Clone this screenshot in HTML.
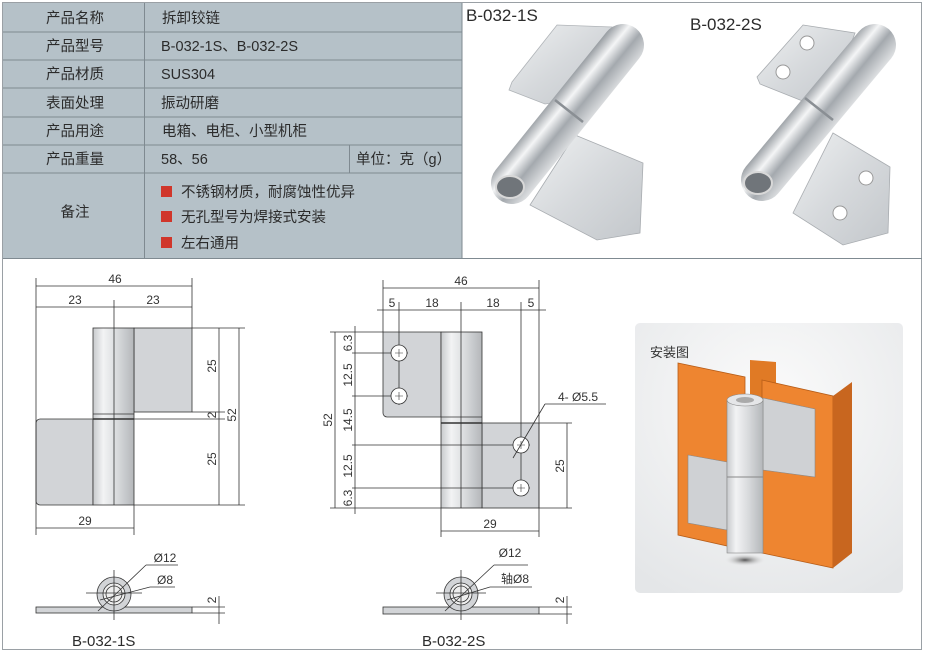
<!DOCTYPE html>
<html><head><meta charset="utf-8"><style>
html,body{margin:0;padding:0;background:#fff;}
svg{display:block;font-family:"Liberation Sans","Noto Sans CJK SC",sans-serif;}
</style></head><body>
<svg width="925" height="663" viewBox="0 0 925 663" xmlns="http://www.w3.org/2000/svg">
<defs>
<linearGradient id="bar" x1="0" x2="1" y1="0" y2="0">
<stop offset="0" stop-color="#c8cacd"/><stop offset="0.25" stop-color="#f2f3f4"/><stop offset="0.55" stop-color="#dcdee0"/><stop offset="1" stop-color="#b4b7ba"/></linearGradient>
<linearGradient id="met1" gradientUnits="userSpaceOnUse" x1="551" y1="100" x2="585" y2="128">
<stop offset="0" stop-color="#9a9fa4"/><stop offset="0.3" stop-color="#f4f5f6"/><stop offset="0.6" stop-color="#a4a9ae"/><stop offset="1" stop-color="#dfe1e3"/></linearGradient>
<linearGradient id="met2" gradientUnits="userSpaceOnUse" x1="801" y1="99" x2="835" y2="127">
<stop offset="0" stop-color="#9a9fa4"/><stop offset="0.3" stop-color="#f4f5f6"/><stop offset="0.6" stop-color="#a4a9ae"/><stop offset="1" stop-color="#dfe1e3"/></linearGradient>
<linearGradient id="leaf" x1="0" x2="1" y1="0" y2="1">
<stop offset="0" stop-color="#eef0f1"/><stop offset="0.5" stop-color="#d6d9dc"/><stop offset="1" stop-color="#c3c7cb"/></linearGradient>
<radialGradient id="bg" cx="0.5" cy="0.3" r="0.8"><stop offset="0" stop-color="#fbfbfb"/><stop offset="1" stop-color="#e4e6e8"/></radialGradient>
<radialGradient id="sh" cx="0.5" cy="0.5" r="0.5"><stop offset="0" stop-color="#555"/><stop offset="1" stop-color="#ddd" stop-opacity="0"/></radialGradient>
</defs>
<rect x="2.5" y="2.5" width="919" height="647" fill="none" stroke="#9aa0a5"/>
<rect x="3" y="3" width="459" height="255" fill="#b5c1c8"/>
<g stroke="#7f8a91" stroke-width="1">
<line x1="3" y1="32" x2="462" y2="32"/><line x1="3" y1="60" x2="462" y2="60"/><line x1="3" y1="88" x2="462" y2="88"/>
<line x1="3" y1="117" x2="462" y2="117"/><line x1="3" y1="145" x2="462" y2="145"/><line x1="3" y1="173" x2="462" y2="173"/>
<line x1="144.5" y1="3" x2="144.5" y2="258"/><line x1="349.5" y1="145" x2="349.5" y2="173"/>
<line x1="462" y1="3" x2="462" y2="258"/><line x1="3" y1="258.5" x2="922" y2="258.5"/>
</g>
<g font-size="14.5" fill="#2b2b2b">
<g text-anchor="middle"><text x="75" y="23">产品名称</text><text x="75" y="51">产品型号</text><text x="75" y="79">产品材质</text><text x="75" y="108">表面处理</text><text x="75" y="136">产品用途</text><text x="75" y="164">产品重量</text><text x="75" y="217">备注</text></g>
<text x="162" y="23">拆卸铰链</text><text x="161" y="51">B-032-1S、B-032-2S</text><text x="161" y="79">SUS304</text><text x="161" y="108">振动研磨</text><text x="162" y="136">电箱、电柜、小型机柜</text><text x="161" y="164">58、56</text><text x="356" y="164">单位：克（g）</text>
<text x="181" y="197">不锈钢材质，耐腐蚀性优异</text><text x="181" y="222">无孔型号为焊接式安装</text><text x="181" y="248">左右通用</text>
</g>
<g fill="#d0362b"><rect x="161" y="186" width="11" height="11"/><rect x="161" y="211" width="11" height="11"/><rect x="161" y="237" width="11" height="11"/></g>
<!-- photos -->
<g font-size="17" fill="#2b2b2b"><text x="466" y="21">B-032-1S</text><text x="690" y="30">B-032-2S</text></g>
<polygon points="557,25 612,27 600,96 545,104 509,90 512,82" fill="url(#leaf)" stroke="#b0b4b8" stroke-width="0.8"/>
<polygon points="575,135 643,163 640,233 597,240 530,205" fill="url(#leaf)" stroke="#a8acb0" stroke-width="0.8"/>
<line x1="512" y1="183" x2="623" y2="45" stroke="url(#met1)" stroke-width="42" stroke-linecap="round"/>
<ellipse cx="510" cy="187" rx="14" ry="11" fill="#70757a" stroke="#d8d8d8" stroke-width="2"/>
<line x1="555" y1="100" x2="583" y2="122" stroke="#8a8f94" stroke-width="2.5"/>
<polygon points="803,25 855,33 830,100 810,104 760,84 757,77" fill="url(#leaf)" stroke="#a8acb0" stroke-width="0.8"/>
<circle cx="807" cy="43" r="7" fill="#fff" stroke="#999"/><circle cx="783" cy="72" r="7" fill="#fff" stroke="#999"/>
<polygon points="833,133 890,167 888,233 843,245 793,213" fill="url(#leaf)" stroke="#a8acb0" stroke-width="0.8"/>
<circle cx="866" cy="178" r="7" fill="#fff" stroke="#999"/><circle cx="840" cy="213" r="7" fill="#fff" stroke="#999"/>
<line x1="762" y1="180" x2="875" y2="45" stroke="url(#met2)" stroke-width="42" stroke-linecap="round"/>
<ellipse cx="758" cy="183" rx="14" ry="11" fill="#70757a" stroke="#d8d8d8" stroke-width="2"/>
<line x1="805" y1="98" x2="833" y2="120" stroke="#8a8f94" stroke-width="2.5"/>
<!-- drawing 1 -->
<g stroke="#333" stroke-width="0.8" fill="none">
<rect x="134" y="328" width="58" height="84" fill="#d2d4d7"/>
<path d="M93,419 H40 a4,4 0 0 0 -4,4 V501 a4,4 0 0 0 4,4 H93 Z" fill="#d2d4d7"/>
<rect x="93" y="328" width="41" height="177" fill="url(#bar)"/>
<line x1="93" y1="414" x2="134" y2="414"/><line x1="93" y1="419" x2="134" y2="419" stroke-width="1.5"/>
<line x1="114" y1="300" x2="114" y2="505"/>
<line x1="36" y1="278" x2="36" y2="535"/><line x1="192" y1="278" x2="192" y2="328"/><line x1="134" y1="505" x2="134" y2="535"/>
<line x1="36" y1="286" x2="192" y2="286"/><line x1="36" y1="307" x2="192" y2="307"/><line x1="36" y1="528" x2="134" y2="528"/>
<line x1="192" y1="328" x2="245" y2="328"/><line x1="134" y1="505" x2="245" y2="505"/><line x1="192" y1="412" x2="225" y2="412"/><line x1="134" y1="419" x2="225" y2="419"/>
<line x1="219" y1="328" x2="219" y2="505"/><line x1="239" y1="328" x2="239" y2="505"/>
<rect x="36" y="607" width="156" height="6" fill="#d2d4d7"/>
<circle cx="114" cy="594" r="17" fill="#d2d4d7"/><circle cx="114" cy="594" r="11" fill="#eee"/><circle cx="114" cy="594" r="8"/>
<line x1="114" y1="570" x2="114" y2="620"/><line x1="86" y1="593" x2="142" y2="593"/>
<line x1="98" y1="611" x2="146" y2="565"/><line x1="146" y1="565" x2="178" y2="565"/>
<line x1="100" y1="600" x2="150" y2="587"/><line x1="150" y1="587" x2="175" y2="587"/>
<line x1="192" y1="607" x2="225" y2="607"/><line x1="192" y1="613" x2="225" y2="613"/><line x1="219" y1="596" x2="219" y2="624"/>
</g>
<g font-size="12" fill="#333" text-anchor="middle">
<text x="115" y="283">46</text><text x="75" y="304">23</text><text x="153" y="304">23</text><text x="85" y="525">29</text>
<text transform="translate(216,366) rotate(-90)">25</text><text transform="translate(216,415) rotate(-90)">2</text><text transform="translate(236,415) rotate(-90)">52</text><text transform="translate(216,459) rotate(-90)">25</text>
<text transform="translate(216,600) rotate(-90)">2</text>
<text x="165" y="562">Ø12</text><text x="165" y="584">Ø8</text>
</g>
<text x="72" y="646" font-size="15" fill="#2b2b2b">B-032-1S</text>
<!-- drawing 2 -->
<g stroke="#333" stroke-width="0.8" fill="none">
<path d="M383,332 H441 V417 H387 a4,4 0 0 1 -4,-4 Z" fill="#d2d4d7"/>
<rect x="482" y="423" width="57" height="85" fill="#d2d4d7"/>
<rect x="441" y="332" width="41" height="176" fill="url(#bar)"/>
<line x1="441" y1="417" x2="482" y2="417"/><line x1="441" y1="423" x2="482" y2="423" stroke-width="1.5"/>
<line x1="461" y1="302" x2="461" y2="508"/>
<line x1="383" y1="280" x2="383" y2="332"/><line x1="539" y1="280" x2="539" y2="508"/>
<line x1="399" y1="302" x2="399" y2="405"/><line x1="521" y1="302" x2="521" y2="496"/>
<line x1="383" y1="288" x2="539" y2="288"/><line x1="377" y1="310" x2="546" y2="310"/>
<line x1="330" y1="332" x2="383" y2="332"/><line x1="330" y1="508" x2="441" y2="508"/>
<line x1="352" y1="353" x2="408" y2="353"/><line x1="352" y1="396" x2="408" y2="396"/><line x1="352" y1="445" x2="530" y2="445"/><line x1="352" y1="488" x2="530" y2="488"/>
<line x1="335" y1="332" x2="335" y2="508"/><line x1="355" y1="326" x2="355" y2="514"/>
<line x1="539" y1="423" x2="572" y2="423"/><line x1="539" y1="508" x2="572" y2="508"/><line x1="567" y1="423" x2="567" y2="508"/>
<line x1="441" y1="508" x2="441" y2="537"/><line x1="441" y1="531" x2="539" y2="531"/><line x1="539" y1="508" x2="539" y2="537"/>
<g fill="#fff"><circle cx="399" cy="353" r="8"/><circle cx="399" cy="396" r="8"/><circle cx="521" cy="445" r="8"/><circle cx="521" cy="488" r="8"/></g>
<line x1="545" y1="404" x2="606" y2="404"/><line x1="545" y1="404" x2="513" y2="458"/>
<rect x="383" y="607" width="156" height="7" fill="#d2d4d7"/>
<circle cx="461" cy="594" r="17" fill="#d2d4d7"/><circle cx="461" cy="594" r="11" fill="#eee"/><circle cx="461" cy="594" r="8"/>
<line x1="461" y1="570" x2="461" y2="620"/><line x1="436" y1="593" x2="486" y2="593"/>
<line x1="445" y1="611" x2="494" y2="565"/><line x1="494" y1="565" x2="528" y2="565"/>
<line x1="447" y1="600" x2="490" y2="587"/><line x1="490" y1="587" x2="532" y2="587"/>
<line x1="539" y1="607" x2="572" y2="607"/><line x1="539" y1="614" x2="572" y2="614"/><line x1="567" y1="596" x2="567" y2="624"/>
</g>
<g stroke="#333" stroke-width="0.6"><path d="M395,353h8M399,349v8M395,396h8M399,392v8M517,445h8M521,441v8M517,488h8M521,484v8"/></g>
<g font-size="12" fill="#333" text-anchor="middle">
<text x="461" y="285">46</text><text x="392" y="307">5</text><text x="432" y="307">18</text><text x="493" y="307">18</text><text x="531" y="307">5</text><text x="490" y="528">29</text>
<text transform="translate(332,420) rotate(-90)">52</text>
<text transform="translate(352,343) rotate(-90)">6.3</text><text transform="translate(352,375) rotate(-90)">12.5</text><text transform="translate(352,420) rotate(-90)">14.5</text><text transform="translate(352,466) rotate(-90)">12.5</text><text transform="translate(352,498) rotate(-90)">6.3</text>
<text transform="translate(564,466) rotate(-90)">25</text><text transform="translate(564,600) rotate(-90)">2</text>
<text x="578" y="401">4- Ø5.5</text><text x="510" y="557">Ø12</text><text x="515" y="583">轴Ø8</text>
</g>
<text x="422" y="646" font-size="15" fill="#2b2b2b">B-032-2S</text>
<!-- install image -->
<rect x="635" y="323" width="268" height="270" rx="5" fill="url(#bg)"/>
<text x="650" y="357" font-size="13" fill="#333">安装图</text>
<polygon points="750,360 776,362 776,400 750,400" fill="#e07a25"/>
<polygon points="678,363 745,377 745,550 678,535" fill="#ee8530" stroke="#b65c17" stroke-width="0.8"/>
<polygon points="762,380 833,396 833,568 762,553" fill="#ee8530" stroke="#b65c17" stroke-width="0.8"/>
<polygon points="833,396 852,382 852,553 833,568" fill="#c8661f"/>
<polygon points="763,398 815,409 815,477 763,470" fill="#cfd1d4" stroke="#888" stroke-width="0.6"/>
<polygon points="688,455 727,462 727,530 688,523" fill="#cfd1d4" stroke="#888" stroke-width="0.6"/>
<ellipse cx="745" cy="560" rx="20" ry="6" fill="url(#sh)"/>
<rect x="727" y="400" width="36" height="153" fill="url(#bar)" stroke="#888" stroke-width="0.6"/>
<ellipse cx="745" cy="400" rx="18" ry="6" fill="#e5e6e8" stroke="#888" stroke-width="0.6"/>
<ellipse cx="745" cy="400" rx="9" ry="3" fill="#aaa"/>
<line x1="727" y1="477" x2="763" y2="477" stroke="#888"/>
</svg>
</body></html>
